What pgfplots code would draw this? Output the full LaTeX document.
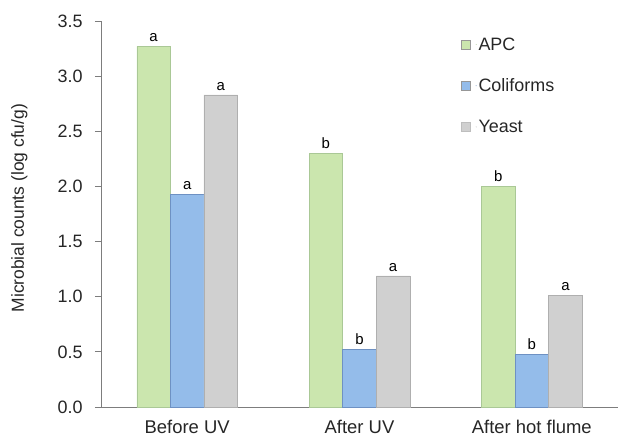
\documentclass[border=0pt]{standalone}
\usepackage{pgfplots}
\pgfplotsset{compat=1.18}
\usetikzlibrary{calc}
\usepackage{fontspec}
\setmainfont{Liberation Sans}
\definecolor{apc}{RGB}{203,230,174}
\definecolor{apcd}{RGB}{170,200,150}
\definecolor{coli}{RGB}{148,188,234}
\definecolor{colid}{RGB}{110,145,195}
\definecolor{yeast}{RGB}{208,208,208}
\definecolor{yeastd}{RGB}{175,175,175}
\definecolor{axgray}{RGB}{125,125,125}
\begin{document}
\begin{tikzpicture}
\begin{axis}[
  at={(0,0)}, anchor=south west,
  scale only axis, width=517bp, height=386bp,
  xmin=-0.5, xmax=2.5, ymin=0, ymax=3.5,
  axis x line*=bottom, axis y line*=left,
  axis line style={axgray, line width=0.9bp},
  xtick={0,1,2}, xticklabels={Before UV, After UV, After hot flume},
  x tick style={draw=none},
  ytick={0,0.5,1,1.5,2,2.5,3,3.5},
  y tick style={axgray, line width=0.9bp},
  tick align=outside, major tick length=6bp,
  /pgf/number format/assume math mode=true,
  yticklabel style={/pgf/number format/fixed, /pgf/number format/fixed zerofill, /pgf/number format/precision=1, font=\fontsize{18}{20}\selectfont, text=black!85, xshift=-9bp},
  xticklabel style={font=\fontsize{18.5}{20}\selectfont, text=black!85, yshift=-4bp},
  ylabel={Microbial counts (log cfu/g)},
  ylabel style={font=\fontsize{17.5}{19}\selectfont, text=black!85, at={(axis description cs:-0.158,0.515)}, anchor=center},
  ybar, bar width=0.195,
  nodes near coords, point meta=explicit symbolic,
  every node near coord/.append style={font=\fontsize{15}{16}\selectfont, text=black, yshift=1bp},
  legend style={draw=none, fill=none, at={(0.69,0.968)}, anchor=north west, font=\fontsize{18}{20}\selectfont, row sep=23bp, text=black!85, /tikz/every even column/.append style={column sep=0bp}},
  legend cell align=left,
]
\addplot[bar shift=-0.195, fill=apc, draw=apcd, line width=0.5bp,
  legend image code/.code={\draw[fill=apc, draw=axgray!80, line width=0.5bp] (0bp,-4.5bp) rectangle (9bp,4.5bp); \path (15bp,0) circle (0.1bp);}]
  coordinates {(0,3.27) [a] (1,2.30) [b] (2,2.00) [b]};
\addlegendentry{APC}
\addplot[bar shift=0, fill=coli, draw=colid, line width=0.5bp,
  legend image code/.code={\draw[fill=coli, draw=axgray!80, line width=0.5bp] (0bp,-4.5bp) rectangle (9bp,4.5bp); \path (15bp,0) circle (0.1bp);}]
  coordinates {(0,1.93) [a] (1,0.52) [b] (2,0.48) [b]};
\addlegendentry{Coliforms}
\addplot[bar shift=0.195, fill=yeast, draw=yeastd, line width=0.5bp,
  legend image code/.code={\draw[fill=yeast, draw=axgray!50, line width=0.5bp] (0bp,-4.5bp) rectangle (9bp,4.5bp); \path (15bp,0) circle (0.1bp);}]
  coordinates {(0,2.83) [a] (1,1.19) [a] (2,1.01) [a]};
\addlegendentry{Yeast}
\end{axis}
\pgfresetboundingbox
\path ($(current axis.south west)+(-101bp,-38bp)$) rectangle ($(current axis.north east)+(2bp,21bp)$);
\end{tikzpicture}
\end{document}
